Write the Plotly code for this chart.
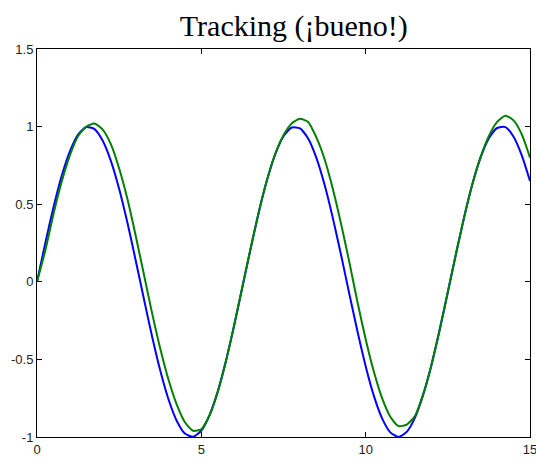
import plotly.graph_objects as go

t = [i * 0.25 for i in range(61)]

reference = [0.0, 0.247, 0.479, 0.682, 0.841, 0.949, 0.997, 0.984, 0.909, 0.778,
             0.598, 0.382, 0.141, -0.108, -0.351, -0.572, -0.757, -0.895, -0.978, -0.999,
             -0.959, -0.859, -0.706, -0.509, -0.279, -0.033, 0.215, 0.451, 0.657, 0.823,
             0.938, 0.994, 0.989, 0.923, 0.798, 0.625, 0.412, 0.174, -0.075, -0.319,
             -0.544, -0.735, -0.880, -0.970, -1.000, -0.967, -0.875, -0.727, -0.537, -0.311,
             -0.066, 0.182, 0.420, 0.632, 0.803, 0.925, 0.991, 0.997, 0.935, 0.815,
             0.650]

tracking = [0.0, 0.20, 0.435, 0.644, 0.815, 0.94, 1.0, 1.02, 0.98, 0.885,
            0.73, 0.535, 0.30, 0.05, -0.20, -0.43, -0.63, -0.79, -0.905, -0.96,
            -0.95, -0.86, -0.71, -0.51, -0.28, -0.03, 0.215, 0.45, 0.657, 0.825,
            0.945, 1.02, 1.05, 1.03, 0.93, 0.79, 0.60, 0.375, 0.13, -0.13,
            -0.37, -0.58, -0.75, -0.87, -0.93, -0.92, -0.865, -0.725, -0.537, -0.311,
            -0.066, 0.182, 0.42, 0.632, 0.805, 0.94, 1.03, 1.07, 1.04, 0.95,
            0.80]

x_ticks = [0, 5, 10, 15]
y_ticks = [-1, -0.5, 0, 0.5, 1, 1.5]
y_tick_labels = ["-1", "-0.5", "0", "0.5", "1", "1.5"]

fig = go.Figure()
fig.add_trace(go.Scatter(x=t, y=reference, mode="lines",
                         line=dict(color="#0000ff", width=2, shape="spline", smoothing=0.6)))
fig.add_trace(go.Scatter(x=t, y=tracking, mode="lines",
                         line=dict(color="#008000", width=2, shape="spline", smoothing=0.6)))

axis_common = dict(showline=True, linecolor="black", linewidth=1, mirror="ticks",
                   ticks="inside", ticklen=5, tickcolor="black", showgrid=False,
                   zeroline=False, automargin=False, ticklabeloverflow="allow",
                   tickfont=dict(family="Liberation Sans, Arial", size=13, color="#222222"))

fig.update_layout(
    width=536, height=459,
    margin=dict(l=37, r=6, t=49, b=22),
    paper_bgcolor="white", plot_bgcolor="white",
    showlegend=False,
    title=dict(text="Tracking (¡bueno!)", xref="paper", x=0.521, xanchor="center",
               yref="container", y=0.945, yanchor="middle",
               font=dict(family="Liberation Serif, Times New Roman", size=30, color="black")),
    xaxis=dict(range=[0, 15], tickvals=x_ticks, ticktext=[str(v) for v in x_ticks], **axis_common),
    yaxis=dict(range=[-1, 1.5], tickvals=y_ticks, ticktext=y_tick_labels, **axis_common),
)

fig.write_html("out.html", config={"displayModeBar": False},
               post_script="document.body.style.margin='0';document.body.style.overflow='hidden';")
